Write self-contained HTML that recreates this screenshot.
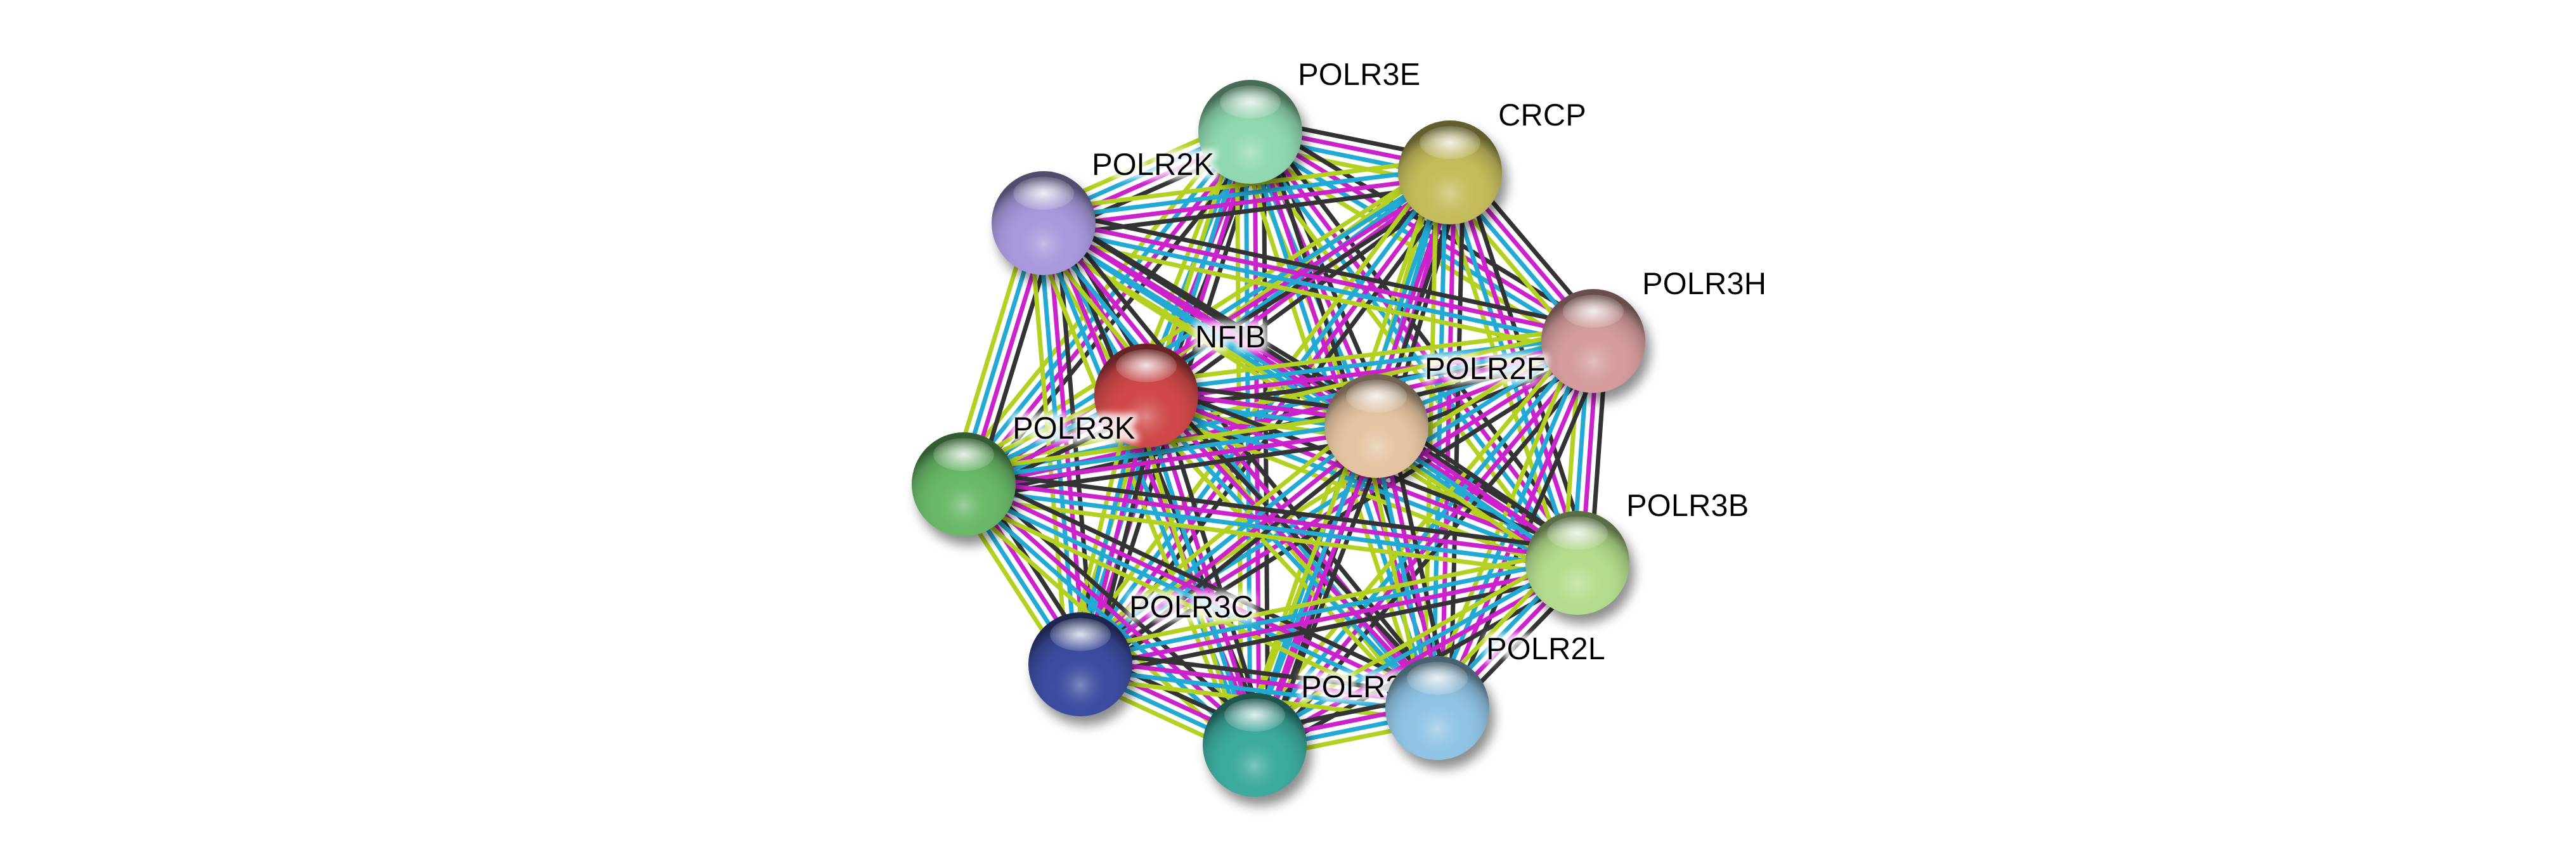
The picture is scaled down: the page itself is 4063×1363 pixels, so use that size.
<!DOCTYPE html>
<html><head><meta charset="utf-8">
<style>
html,body{margin:0;padding:0;background:#fff;}
svg{display:block;}
text{font-family:"Liberation Sans",sans-serif;font-size:49px;fill:#000;}
</style></head>
<body>
<svg id="s" width="4063" height="1363" viewBox="0 0 4063 1363" xmlns="http://www.w3.org/2000/svg">
<defs>
<filter id="glow" x="-20%" y="-40%" width="140%" height="180%">
<feMorphology in="SourceAlpha" operator="dilate" radius="6" result="d"/>
<feGaussianBlur in="d" stdDeviation="5" result="b"/>
<feFlood flood-color="#fff" flood-opacity="0.85"/>
<feComposite in2="b" operator="in" result="w"/>
<feMerge><feMergeNode in="w"/><feMergeNode in="SourceGraphic"/></feMerge>
</filter>
<filter id="sh" x="-50%" y="-50%" width="200%" height="200%"><feGaussianBlur stdDeviation="9"/></filter>
<radialGradient id="hl" cx="50%" cy="50%" r="50%">
<stop offset="0" stop-color="#fff" stop-opacity="0.85"/>
<stop offset="1" stop-color="#fff" stop-opacity="0.15"/>
</radialGradient>
</defs>
<g id="edges"></g>
<g id="labels0"></g>
<g id="nodes"></g>
<g id="labels"></g>
</svg>
<script>
var N=[
["POLR3E",1972,208,"#8fd8b0",2047,134],
["CRCP",2287,272,"#c4bc5c",2363,198],
["POLR2K",1646,352,"#a898dc",1722,276],
["POLR3H",2513,538,"#d49c9c",2590,464],
["NFIB",1808,624,"#d04848",1885,548],
["POLR2F",2171,672,"#e4c4a0",2247,598],
["POLR3K",1520,764,"#68b868",1597,692],
["POLR3B",2488,888,"#b4dc8c",2565,814],
["POLR3C",1704,1048,"#3c4ca0",1781,974],
["POLR3D",1979,1175,"#3caa9c",2052,1100],
["POLR2L",2267,1117,"#90c4e4",2344,1040]
];
var ns="http://www.w3.org/2000/svg";
function el(t,a,p){var e=document.createElementNS(ns,t);for(var k in a)e.setAttribute(k,a[k]);p.appendChild(e);return e;}
var E=document.getElementById("edges"),L=document.getElementById("labels"),L0=document.getElementById("labels0"),G=document.getElementById("nodes"),D=document.querySelector("defs");
var cols=["#333333","#cc22cc","#22aad4","#b4d020"];
for(var i=0;i<N.length;i++)for(var j=i+1;j<N.length;j++){
 var a=N[i],b=N[j],dx=b[1]-a[1],dy=b[2]-a[2],l=Math.hypot(dx,dy),px=-dy/l,py=dx/l;
 for(var k=0;k<4;k++){var o=(k-1.5)*14;
  el("line",{x1:a[1]+px*o,y1:a[2]+py*o,x2:b[1]+px*o,y2:b[2]+py*o,stroke:cols[k],"stroke-width":7},E);}
}
N.forEach(function(n){
 var t=el("text",{x:n[4],y:n[5],filter:"url(#glow)"},n[0]=="POLR3D"?L0:L);t.textContent=n[0];
});
N.forEach(function(n,i){
 var g=el("radialGradient",{id:"g"+i,cx:"50%",cy:"70%",r:"62%"},D);
 el("stop",{offset:"0","stop-color":"#fff","stop-opacity":"0.35"},g);
 el("stop",{offset:"0.45","stop-color":n[3],"stop-opacity":"0"},g);
 el("stop",{offset:"0.85","stop-color":"#000","stop-opacity":"0.2"},g);
 el("stop",{offset:"1","stop-color":"#000","stop-opacity":"0.5"},g);
 el("circle",{cx:n[1]+8,cy:n[2]+14,r:82,fill:"#000","fill-opacity":0.45,filter:"url(#sh)"},G);
 el("circle",{cx:n[1],cy:n[2],r:82,fill:n[3]},G);
 el("circle",{cx:n[1],cy:n[2],r:82,fill:"url(#g"+i+")"},G);
 el("ellipse",{cx:n[1],cy:n[2]-47,rx:48,ry:26,fill:"url(#hl)"},G);
});
</script>
</body></html>
